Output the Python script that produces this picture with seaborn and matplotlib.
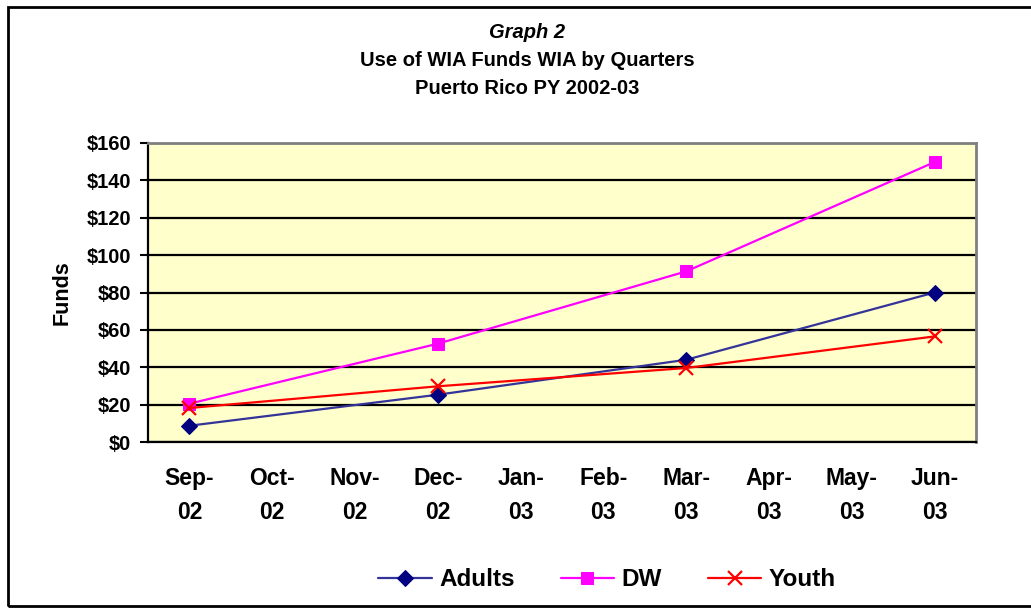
import pandas as pd
import seaborn as sns
import matplotlib.pyplot as plt
from matplotlib.patches import Rectangle

# month labels on the category axis
months = ["Sep-\n02", "Oct-\n02", "Nov-\n02", "Dec-\n02", "Jan-\n03",
          "Feb-\n03", "Mar-\n03", "Apr-\n03", "May-\n03", "Jun-\n03"]

# quarters with data (index into months)
quarter_idx = [0, 3, 6, 9]

# funds by quarter
adults = [8.7, 25.3, 44, 80]
dw = [20.5, 52.6, 91.3, 149.8]
youth = [18.2, 29.8, 39.6, 56.5]

sns.set_style("white")
plt.rcParams["font.family"] = ["Liberation Sans", "DejaVu Sans"]
plt.rcParams["font.weight"] = "bold"
plt.rcParams["text.color"] = "black"
plt.rcParams["axes.labelcolor"] = "black"
plt.rcParams["xtick.color"] = "black"
plt.rcParams["ytick.color"] = "black"

df = pd.DataFrame({
    "month": quarter_idx * 3,
    "funds": adults + dw + youth,
    "series": ["Adults"] * 4 + ["DW"] * 4 + ["Youth"] * 4,
})

fig = plt.figure(figsize=(10.31, 6.08), dpi=100)
ax = fig.add_axes([148 / 1031, 1 - 442 / 608, (976 - 148) / 1031, (442 - 143) / 608])
ax.set_facecolor("#FFFFCC")

styles = {
    "Adults": dict(color="#333399", marker="D", markersize=8, mfc="#000080", mec="#000080"),
    "DW": dict(color="#FF00FF", marker="s", markersize=8, mfc="#FF00FF", mec="#FF00FF"),
    "Youth": dict(color="#FF0000", marker="x", markersize=10, mec="#FF0000", mew=1.6),
}

for name, st in styles.items():
    sub = df[df["series"] == name]
    sns.lineplot(data=sub, x="month", y="funds", ax=ax, label=name,
                 linewidth=1.6, zorder=3, **st)

# axes
ax.set_xlim(-0.5, len(months) - 0.5)
ax.set_ylim(0, 160)
ax.set_yticks(range(0, 161, 20))
ax.set_yticklabels([f"${v}" for v in range(0, 161, 20)], fontsize=14.5, fontweight="bold")
ax.yaxis.grid(True, color="black", linewidth=1.6)
ax.set_axisbelow(True)

ax.set_xticks(range(len(months)))
ax.set_xticklabels(months, fontsize=16.5, fontweight="bold", linespacing=1.6)
ax.set_xticks([i - 0.5 for i in range(len(months) + 1)], minor=True)
ax.tick_params(axis="x", which="major", length=0, pad=18)
ax.tick_params(axis="x", which="minor", length=6, width=1.5, direction="out", color="black")
ax.tick_params(axis="y", length=6, width=1.5, direction="out", color="black", pad=6, left=True)

ax.set_xlabel("")
ax.set_ylabel("Funds", fontsize=15.5, fontweight="bold", labelpad=10)

for side in ["left", "bottom"]:
    ax.spines[side].set_color("black")
    ax.spines[side].set_linewidth(1.6)
for side in ["top", "right"]:
    ax.spines[side].set_color("#808080")
    ax.spines[side].set_linewidth(2)

# legend at bottom
handles, labels = ax.get_legend_handles_labels()
ax.get_legend().remove()
fig.legend(handles, labels, loc="center", bbox_to_anchor=(607 / 1031, 1 - 580 / 608),
           ncol=3, frameon=False, prop={"size": 17.5, "weight": "bold"},
           handlelength=2.2, handletextpad=0.3, columnspacing=1.9)

# title block
tx = 527 / 1031
fig.text(tx, 1 - 32 / 608, "Graph 2", ha="center", va="center",
         fontsize=14.5, fontweight="bold", fontstyle="italic")
fig.text(tx, 1 - 60 / 608, "Use of WIA Funds WIA by Quarters", ha="center", va="center",
         fontsize=14.5, fontweight="bold")
fig.text(tx, 1 - 88 / 608, "Puerto Rico PY 2002-03", ha="center", va="center",
         fontsize=14.5, fontweight="bold")

# outer chart frame
fig.patches.append(Rectangle((8 / 1031, 1 - 606 / 608), 1.05, 599 / 608,
                             transform=fig.transFigure, fill=False,
                             edgecolor="black", linewidth=2))

fig.savefig("out.png", dpi=100)
